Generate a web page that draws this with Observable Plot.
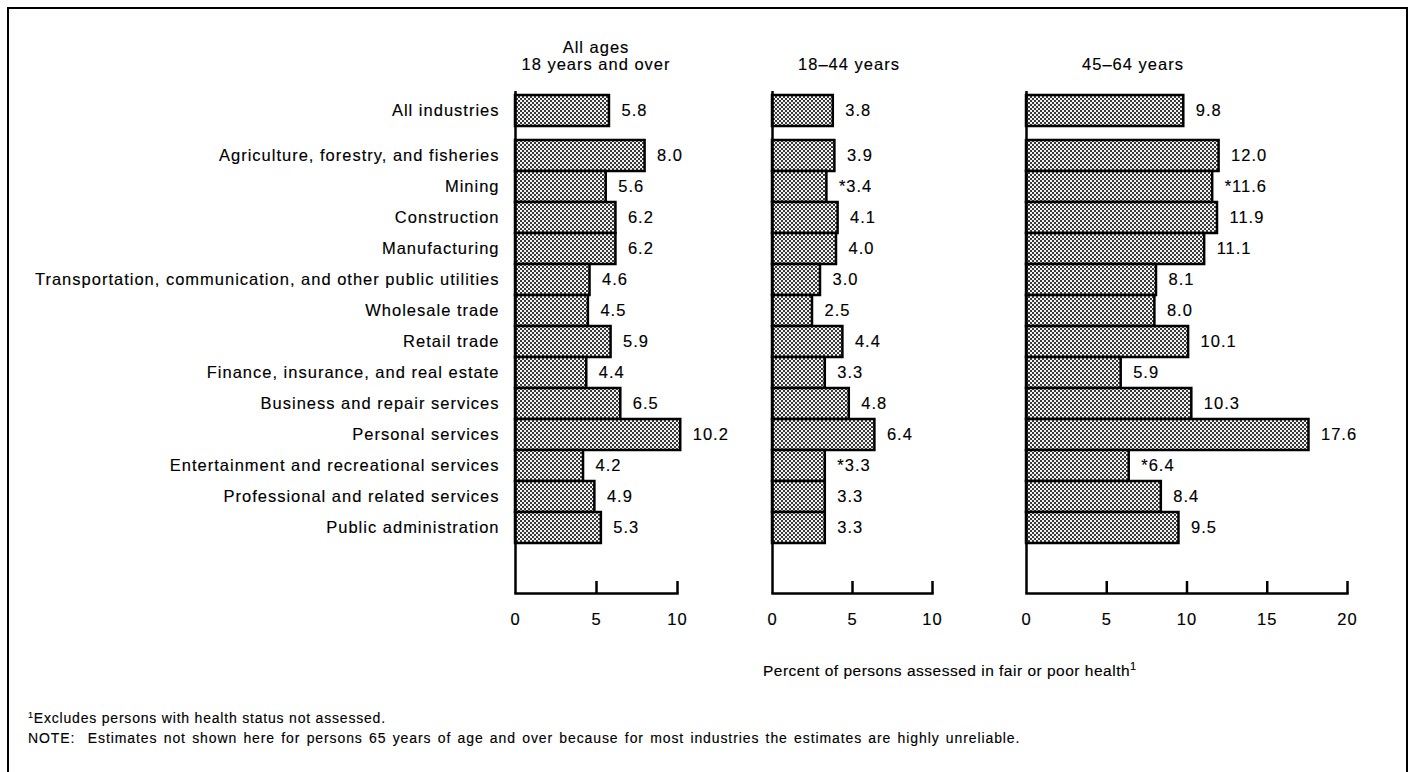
<!DOCTYPE html>
<html><head><meta charset="utf-8">
<script src="https://cdn.jsdelivr.net/npm/d3@7"></script>
<script src="https://cdn.jsdelivr.net/npm/@observablehq/plot@0.6"></script>
<style>
body{margin:0;background:#fff;}
#page{position:relative;width:1416px;height:772px;overflow:hidden;font-family:'Liberation Sans',Arial,Helvetica,sans-serif;color:#000;background:#fff;}
#page text{stroke:#000;stroke-width:0.15px;}
.border{position:absolute;left:7px;top:7px;width:1401px;height:840px;border:2.5px solid #000;box-sizing:border-box;}
.hdr{position:absolute;width:260px;text-align:center;font-size:16.5px;line-height:17px;letter-spacing:1px;-webkit-text-stroke:0.15px #000;}
.panel{position:absolute;top:0;}
.panel svg{overflow:visible;}
.title{position:absolute;left:763px;top:662px;font-size:15.5px;line-height:17px;letter-spacing:0.5px;white-space:nowrap;-webkit-text-stroke:0.15px #000;}
.title sup{font-size:11px;vertical-align:6px;line-height:0;}
.note{position:absolute;left:28px;font-size:14px;line-height:15px;white-space:nowrap;-webkit-text-stroke:0.15px #000;}
.note sup{font-size:9px;vertical-align:5px;line-height:0;}
</style>
</head><body>
<svg width="0" height="0" style="position:absolute">
  <defs>
    <pattern id="dots" width="4" height="4" patternUnits="userSpaceOnUse">
      <rect width="4" height="4" fill="#f2f2f2"/>
      <rect x="0" y="0" width="2" height="2" fill="#3a3a3a"/>
      <rect x="2" y="2" width="2" height="2" fill="#3a3a3a"/>
    </pattern>
  </defs>
</svg>
<div id="page">
  <div class="border"></div>
  <div class="hdr" style="left:466px;top:39px;">All ages<br>18 years and over</div>
  <div class="hdr" style="left:719px;top:56px;">18–44 years</div>
  <div class="hdr" style="left:1003px;top:56px;">45–64 years</div>
  <div id="p1" class="panel" style="left:0px"></div>
  <div id="p2" class="panel" style="left:737px"></div>
  <div id="p3" class="panel" style="left:992px"></div>
  <div class="title">Percent of persons assessed in fair or poor health<sup>1</sup></div>
  <div class="note" style="top:711px;letter-spacing:0.8px;"><sup>1</sup>Excludes persons with health status not assessed.</div>
  <div class="note" style="top:731px;letter-spacing:0.9px;word-spacing:1.5px;">NOTE:&nbsp; Estimates not shown here for persons 65 years of age and over because for most industries the estimates are highly unreliable.</div>
</div>
<script>
const industries = [
  "All industries",
  "Agriculture, forestry, and fisheries",
  "Mining",
  "Construction",
  "Manufacturing",
  "Transportation, communication, and other public utilities",
  "Wholesale trade",
  "Retail trade",
  "Finance, insurance, and real estate",
  "Business and repair services",
  "Personal services",
  "Entertainment and recreational services",
  "Professional and related services",
  "Public administration"
];
const allAges   = [5.8, 8.0, 5.6, 6.2, 6.2, 4.6, 4.5, 5.9, 4.4, 6.5, 10.2, 4.2, 4.9, 5.3];
const ages18to44 = [3.8, 3.9, 3.4, 4.1, 4.0, 3.0, 2.5, 4.4, 3.3, 4.8, 6.4, 3.3, 3.3, 3.3];
const ages45to64 = [9.8, 12.0, 11.6, 11.9, 11.1, 8.1, 8.0, 10.1, 5.9, 10.3, 17.6, 6.4, 8.4, 9.5];
const flagsAll    = ["", "", "", "", "", "", "", "", "", "", "", "", "", ""];
const flags18to44 = ["", "", "*", "", "", "", "", "", "", "", "", "*", "", ""];
const flags45to64 = ["", "", "*", "", "", "", "", "", "", "", "", "*", "", ""];
const ticksShort = [0, 5, 10];
const ticksLong  = [0, 5, 10, 15, 20];

function panel({values, flags, max, ticks, showY, width, marginLeft, marginRight}) {
  const rows = industries.map((industry, i) => ({industry, value: values[i], label: flags[i] + values[i].toFixed(1)}));
  const head = rows.slice(0, 1), body = rows.slice(1);
  const H = 640, mt = 91, mb = 47;
  const frameH = H - mt - mb;
  const barStyle = {x: "value", y: "industry", fill: "url(#dots)", stroke: "#000", strokeWidth: 2.5};
  const txtStyle = {x: "value", y: "industry", text: "label", dx: 12, textAnchor: "start", fill: "#000"};
  const marks = [
    Plot.barX(body, barStyle),
    Plot.barX(head, {...barStyle, dy: -14}),
    Plot.text(body, txtStyle),
    Plot.text(head, {...txtStyle, dy: -14}),
    Plot.ruleX([0], {strokeWidth: 2.5, stroke: "#000"}),
    Plot.frame({anchor: "bottom", strokeWidth: 2.5, stroke: "#000"}),
    Plot.tickX(ticks.slice(1), {x: d => d, insetTop: frameH - 12, strokeWidth: 2.5, stroke: "#000"}),
    Plot.axisX(ticks, {tickSize: 0, tickPadding: 20, label: null})
  ];
  if (showY) {
    marks.push(
      Plot.axisY(industries.slice(1), {tickSize: 0, tickPadding: 16, label: null}),
      Plot.axisY(industries.slice(0, 1), {tickSize: 0, tickPadding: 16, label: null, dy: -14})
    );
  }
  return Plot.plot({
    width, height: H, marginTop: mt, marginBottom: mb, marginLeft, marginRight,
    style: {fontFamily: "'Liberation Sans', Arial, Helvetica, sans-serif", fontSize: "16.5px", letterSpacing: "1px", background: "transparent", overflow: "visible", color: "#000"},
    x: {domain: [0, max], label: null},
    y: {domain: industries, padding: 0, insetTop: 14.5, insetBottom: 46.5, label: null, axis: showY ? undefined : null},
    marks
  });
}

document.getElementById("p1").appendChild(panel({values: allAges, flags: flagsAll, max: 10, ticks: ticksShort, showY: true, width: 737, marginLeft: 515, marginRight: 60}));
document.getElementById("p2").appendChild(panel({values: ages18to44, flags: flags18to44, max: 10, ticks: ticksShort, showY: false, width: 255, marginLeft: 35, marginRight: 60}));
document.getElementById("p3").appendChild(panel({values: ages45to64, flags: flags45to64, max: 20, ticks: ticksLong, showY: false, width: 405, marginLeft: 34, marginRight: 50}));
</script>
</body></html>
